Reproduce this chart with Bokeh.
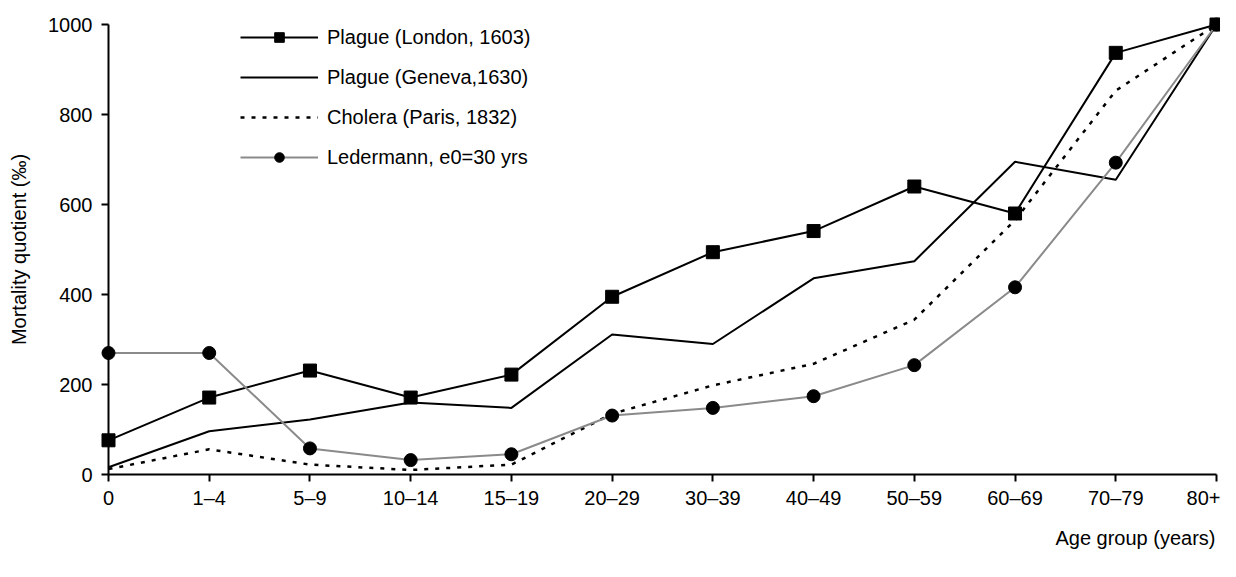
from bokeh.plotting import figure
from bokeh.models import Range1d, FixedTicker, Legend, LegendItem, Title
from bokeh.embed import file_html
from bokeh.resources import INLINE

categories = ["0", "1–4", "5–9", "10–14", "15–19", "20–29", "30–39",
              "40–49", "50–59", "60–69", "70–79", "80+"]
london = [76, 171, 231, 171, 222, 395, 494, 541, 640, 580, 937, 1000]
geneva = [16, 96, 122, 160, 148, 311, 290, 436, 474, 695, 655, 1000]
cholera = [12, 56, 22, 10, 22, 135, 198, 246, 344, 565, 853, 1000]
ledermann = [270, 270, 58, 32, 45, 131, 148, 174, 243, 416, 693, 1000]
y_ticks = [0, 200, 400, 600, 800, 1000]

x = list(range(len(categories)))
FONT = "Liberation Sans"
FS = "20px"

p = figure(width=1220, height=561, output_backend="svg", toolbar_location=None,
           x_range=Range1d(0, len(categories) - 1), y_range=Range1d(0, 1000),
           min_border_left=108, min_border_right=4, min_border_top=24,
           min_border_bottom=87)
p.outline_line_color = None
p.grid.visible = False
p.background_fill_color = "white"

for ax in (p.xaxis[0], p.yaxis[0]):
    ax.axis_line_color = "black"
    ax.axis_line_width = 2
    ax.major_tick_line_color = "black"
    ax.major_tick_line_width = 2
    ax.major_tick_out = 7
    ax.major_tick_in = 0
    ax.minor_tick_line_color = None
    ax.major_label_text_font = FONT
    ax.major_label_text_font_size = FS
    ax.major_label_text_color = "black"

p.xaxis.ticker = FixedTicker(ticks=x)
p.xaxis.major_label_overrides = {i: c for i, c in zip(x, categories)}
p.xaxis.major_label_standoff = 5

p.yaxis.ticker = FixedTicker(ticks=y_ticks)
p.yaxis.major_label_standoff = 9
p.yaxis.axis_label = "Mortality quotient (‰)"
p.yaxis.axis_label_text_font = FONT
p.yaxis.axis_label_text_font_size = FS
p.yaxis.axis_label_text_font_style = "normal"
p.yaxis.axis_label_text_color = "black"
p.yaxis.axis_label_standoff = 15

r_lon_l = p.line(x, london, line_color="black", line_width=2, level="overlay")
r_lon_m = p.scatter(x, london, marker="square", size=13, fill_color="black",
                    line_color="black", level="overlay")
r_gen_l = p.line(x, geneva, line_color="black", line_width=2, level="overlay")
r_cho_l = p.line(x, cholera, line_color="black", line_width=2.5, line_dash="4 7",
                 level="overlay")
r_led_l = p.line(x, ledermann, line_color="#8a8a8a", line_width=2, level="overlay")
r_led_m = p.scatter(x, ledermann, marker="circle", size=13, fill_color="black",
                    line_color="black", level="overlay")

legend = Legend(items=[
    LegendItem(label="Plague (London, 1603)", renderers=[r_lon_l, r_lon_m]),
    LegendItem(label="Plague (Geneva,1630)", renderers=[r_gen_l]),
    LegendItem(label="Cholera (Paris, 1832)", renderers=[r_cho_l]),
    LegendItem(label="Ledermann, e0=30 yrs", renderers=[r_led_l, r_led_m]),
], location=(132, 305))
legend.padding = 0
legend.margin = 0
legend.spacing = 16
legend.label_height = 24
legend.glyph_height = 24
legend.glyph_width = 78
legend.label_standoff = 9
legend.label_text_font = FONT
legend.label_text_font_size = FS
legend.label_text_color = "black"
legend.background_fill_alpha = 0
legend.border_line_alpha = 0
p.add_layout(legend)

xt = Title(text="Age group (years)", align="right", offset=1, standoff=26,
           text_font=FONT, text_font_size=FS, text_font_style="normal",
           text_color="black")
p.add_layout(xt, "below")

open("out.html", "w").write(file_html(p, INLINE))
